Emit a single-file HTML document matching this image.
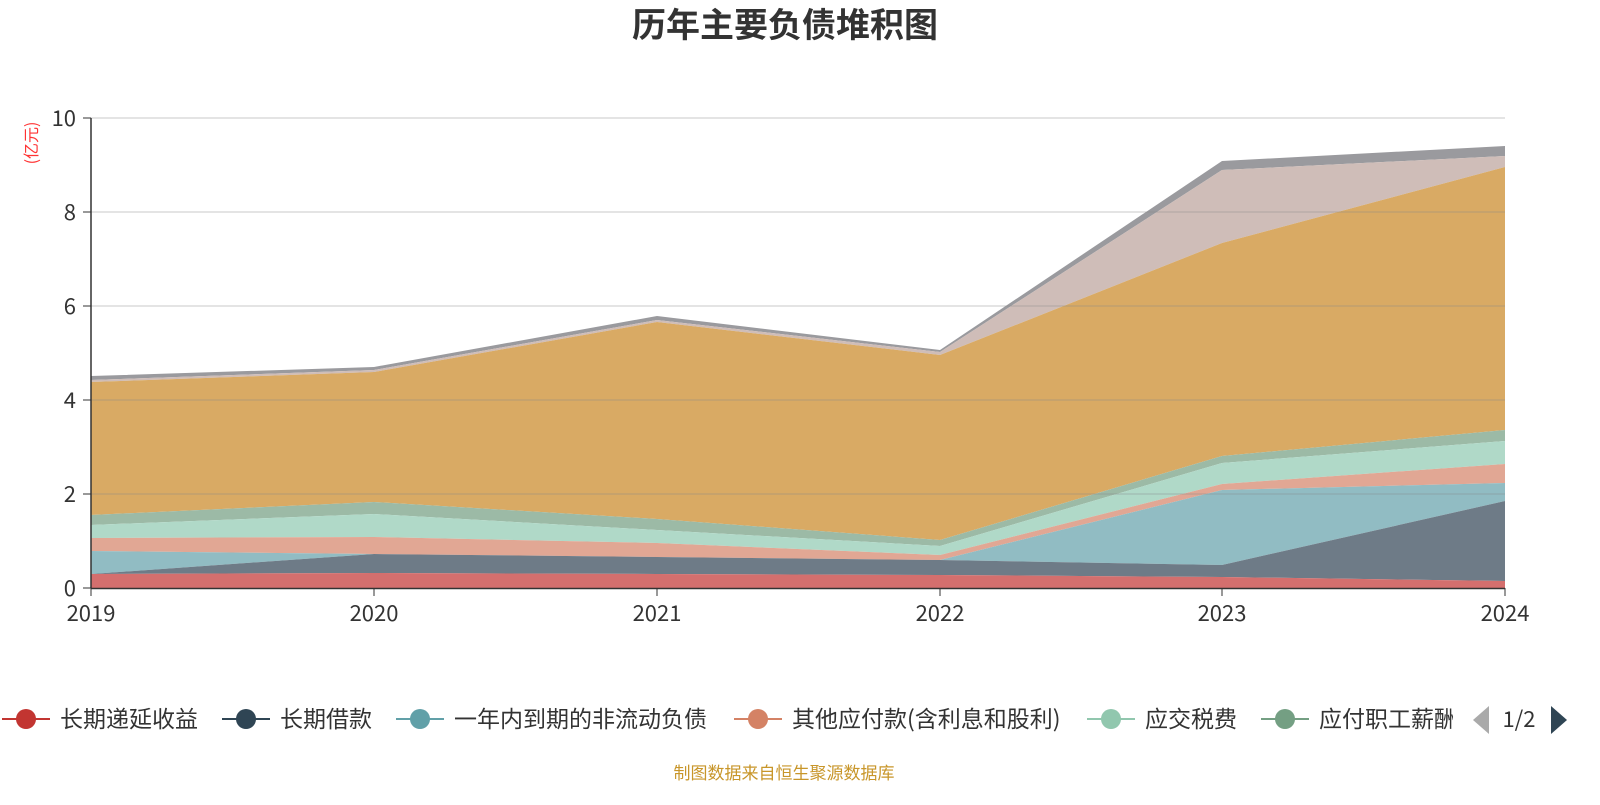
<!DOCTYPE html>
<html><head><meta charset="utf-8"><style>
body{margin:0;background:#fff;width:1600px;height:800px;overflow:hidden;}
</style></head><body>
<svg width="1600" height="800" xmlns="http://www.w3.org/2000/svg" font-family="Noto Sans CJK SC, Liberation Sans, sans-serif">
<text x="785" y="37" text-anchor="middle" font-size="34" font-weight="bold" fill="#333">历年主要负债堆积图</text>
<text x="0" y="0" font-size="16" fill="#f33" text-anchor="middle" transform="translate(37 143) rotate(-90)">(亿元)</text>
<g>
<polygon fill="#9a9a9e" points="91,376 374,367 657,316 940,350 1222,161 1505,146 1505,156 1222,170 940,352 657,320 374,370 91,380"/>
<polygon fill="#cfbdb8" points="91,380 374,370 657,320 940,352 1222,170 1505,156 1505,167 1222,243 940,355 657,322 374,372 91,382"/>
<polygon fill="#d9aa64" points="91,382 374,372 657,322 940,355 1222,243 1505,167 1505,430 1222,456 940,540 657,519 374,502 91,515"/>
<polygon fill="#9cbaa6" points="91,515 374,502 657,519 940,540 1222,456 1505,430 1505,441 1222,463 940,546 657,530 374,514 91,525"/>
<polygon fill="#b0d9c8" points="91,525 374,514 657,530 940,546 1222,463 1505,441 1505,464 1222,484 940,555 657,543 374,537 91,538"/>
<polygon fill="#e1a794" points="91,538 374,537 657,543 940,555 1222,484 1505,464 1505,483 1222,490 940,560 657,557 374,554 91,551"/>
<polygon fill="#91bcc3" points="91,551 374,554 657,557 940,560 1222,490 1505,483 1505,501 1222,565 940,560 657,557 374,554 91,574"/>
<polygon fill="#6e7b87" points="91,574 374,554 657,557 940,560 1222,565 1505,501 1505,581 1222,577 940,575 657,574 374,573 91,574"/>
<polygon fill="#d46f6e" points="91,574 374,573 657,574 940,575 1222,577 1505,581 1505,588 91,588"/>
</g>
<g stroke="#888" stroke-opacity="0.45" stroke-width="1">
<line x1="91" y1="118" x2="1505" y2="118"/><line x1="91" y1="212" x2="1505" y2="212"/><line x1="91" y1="306" x2="1505" y2="306"/><line x1="91" y1="400" x2="1505" y2="400"/><line x1="91" y1="494" x2="1505" y2="494"/>
</g>
<line x1="91" y1="118" x2="91" y2="588" stroke="#333" stroke-width="1.5"/>
<line x1="91" y1="588.5" x2="1505" y2="588.5" stroke="#333" stroke-width="1.5"/>
<g stroke="#333"><line x1="83" y1="118" x2="91" y2="118"/><line x1="83" y1="212" x2="91" y2="212"/><line x1="83" y1="306" x2="91" y2="306"/><line x1="83" y1="400" x2="91" y2="400"/><line x1="83" y1="494" x2="91" y2="494"/><line x1="83" y1="588" x2="91" y2="588"/>
<line x1="91" y1="588" x2="91" y2="596"/><line x1="374" y1="588" x2="374" y2="596"/><line x1="657" y1="588" x2="657" y2="596"/><line x1="940" y1="588" x2="940" y2="596"/><line x1="1222" y1="588" x2="1222" y2="596"/><line x1="1505" y1="588" x2="1505" y2="596"/></g>
<g font-size="22" fill="#333" text-anchor="end">
<text x="76" y="126">10</text><text x="76" y="220">8</text><text x="76" y="314">6</text><text x="76" y="408">4</text><text x="76" y="502">2</text><text x="76" y="596">0</text></g>
<g font-size="22" fill="#333" text-anchor="middle">
<text x="91" y="621">2019</text><text x="374" y="621">2020</text><text x="657" y="621">2021</text><text x="940" y="621">2022</text><text x="1222" y="621">2023</text><text x="1505" y="621">2024</text></g>
<g font-size="23" fill="#333">
<line x1="2" y1="719" x2="50" y2="719" stroke="#c23531" stroke-width="2"/><circle cx="26" cy="719" r="10" fill="#c23531"/><text x="60" y="727">长期递延收益</text>
<line x1="222" y1="719" x2="270" y2="719" stroke="#2f4554" stroke-width="2"/><circle cx="246" cy="719" r="10" fill="#2f4554"/><text x="280" y="727">长期借款</text>
<line x1="396" y1="719" x2="444" y2="719" stroke="#61a0a8" stroke-width="2"/><circle cx="420" cy="719" r="10" fill="#61a0a8"/><text x="454" y="727">一年内到期的非流动负债</text>
<line x1="734" y1="719" x2="782" y2="719" stroke="#d48265" stroke-width="2"/><circle cx="758" cy="719" r="10" fill="#d48265"/><text x="792" y="727">其他应付款(含利息和股利)</text>
<line x1="1087" y1="719" x2="1135" y2="719" stroke="#91c7ae" stroke-width="2"/><circle cx="1111" cy="719" r="10" fill="#91c7ae"/><text x="1145" y="727">应交税费</text>
<line x1="1261" y1="719" x2="1309" y2="719" stroke="#749f83" stroke-width="2"/><circle cx="1285" cy="719" r="10" fill="#749f83"/><text x="1319" y="727">应付职工薪酬</text>
</g>
<rect x="1453" y="695" width="147" height="50" fill="#fff"/>
<polygon points="1489,706 1489,734 1473,720" fill="#aaa"/>
<text x="1519" y="727" font-size="22" fill="#333" text-anchor="middle">1/2</text>
<polygon points="1551,706 1551,734 1567,720" fill="#2f4554"/>
<text x="784" y="779" font-size="17" fill="#c8962a" text-anchor="middle">制图数据来自恒生聚源数据库</text>
</svg>
</body></html>
